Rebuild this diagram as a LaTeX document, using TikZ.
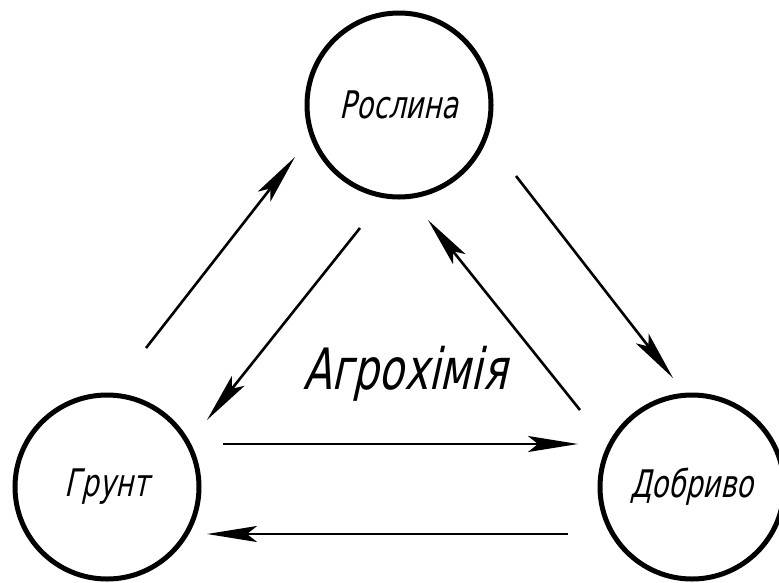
\documentclass[tikz,border=0pt]{standalone}
\usepackage{fontspec}
\newfontfamily\gostfont{DejaVu Sans}[FakeSlant=0.22, FakeStretch=0.72]
\usepackage{tikz}
\usetikzlibrary{arrows.meta, calc}

\tikzset{
  part/.style={draw, circle, line width=5pt, minimum size=184pt, inner sep=0pt,
    font=\gostfont\fontsize{38}{44}\selectfont},
  flow/.style={line width=2.6pt, -{Stealth[length=50pt, width=16pt, inset=10pt]}}
}

\begin{document}
\begin{tikzpicture}[x=1pt, y=-1pt]
  \useasboundingbox (0,0) rectangle (779,582);

  % the three parts
  \node[part] (roslyna) at (399,105) {Рослина};
  \node[part] (grunt) at (107,487) {Грунт};
  \node[part] (dobryvo) at (692,487) {Добриво};

  \node[font=\gostfont\fontsize{57}{62}\selectfont] (agro) at (405,374) {Агрохімія};

  % ends of the arrows
  \coordinate (gr-a) at ($(grunt)+(39,-139)$);
  \coordinate (ro-a) at ($(roslyna)+(-104,52)$);
  \coordinate (ro-b) at ($(roslyna)+(-39,123)$);
  \coordinate (gr-b) at ($(grunt)+(100,-67)$);
  \coordinate (ro-c) at ($(roslyna)+(117,71)$);
  \coordinate (do-c) at ($(dobryvo)+(-19,-109)$);
  \coordinate (do-d) at ($(dobryvo)+(-112,-77)$);
  \coordinate (ro-d) at ($(roslyna)+(29,115)$);
  \coordinate (gr-e) at ($(grunt)+(116,-43)$);
  \coordinate (do-e) at ($(dobryvo)+(-114,-43)$);
  \coordinate (do-f) at ($(dobryvo)+(-124,47)$);
  \coordinate (gr-f) at ($(grunt)+(100,47)$);

  \draw[flow] (gr-a) -- (ro-a);
  \draw[flow] (ro-b) -- (gr-b);
  \draw[flow] (ro-c) -- (do-c);
  \draw[flow] (do-d) -- (ro-d);
  \draw[flow] (gr-e) -- (do-e);
  \draw[flow] (do-f) -- (gr-f);
\end{tikzpicture}
\end{document}
